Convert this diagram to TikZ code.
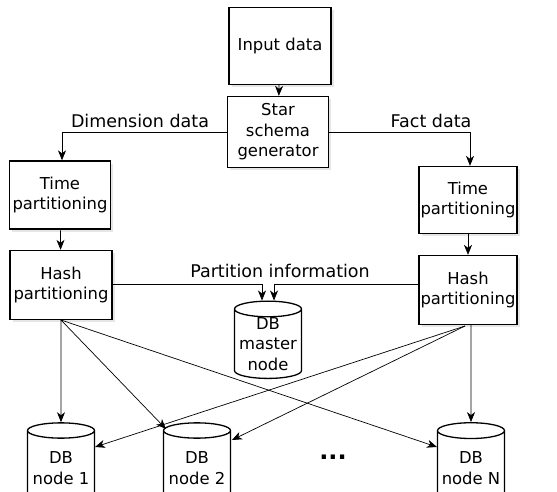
\documentclass[tikz,border=0pt]{standalone}
\usepackage{fontspec}
\setmainfont{DejaVu Sans}
\usetikzlibrary{shapes.geometric,arrows.meta,shadows}
\begin{document}
\begin{tikzpicture}[x=1pt,y=-1pt,
  box/.style={draw,line width=1.3pt,fill=white,align=center,inner sep=0pt,
    drop shadow={shadow xshift=2.5pt,shadow yshift=-2.5pt,opacity=0.2}},
  db/.style={draw,line width=1.3pt,fill=white,cylinder,shape border rotate=90,
    aspect=0.27,minimum width=67pt,minimum height=64pt,align=center,inner sep=0pt},
  conn/.style={line width=0.7pt,-{Stealth[length=10pt,width=8pt,inset=3pt]}},
  lbl/.style={font=\fontsize{17.5}{20}\selectfont},
  every node/.append style={font=\fontsize{16.4}{20.5}\selectfont}]
\useasboundingbox (0,0) rectangle (557,491);
\node[box,minimum width=102pt,minimum height=77pt] (input) at (280,46) {Input data};
\node[box,minimum width=101pt,minimum height=71pt] (star) at (278,132) {Star\\schema\\generator};
\node[box,minimum width=101pt,minimum height=68pt] (tl) at (60,195) {Time\\partitioning};
\node[box,minimum width=102pt,minimum height=69pt] (hl) at (61,285) {Hash\\partitioning};
\node[box,minimum width=98pt,minimum height=67pt] (tr) at (468,200) {Time\\partitioning};
\node[box,minimum width=98pt,minimum height=69pt] (hr) at (468,290) {Hash\\partitioning};
\node[db] (master) at (268,344) {DB\\master\\node};
\node[db,minimum height=82pt] (n1) at (61,468) {DB\\node 1};
\node[db,minimum height=82pt] (n2) at (197,468) {DB\\node 2};
\node[db,minimum height=82pt] (nN) at (471,468) {DB\\node N};
\node[font=\fontsize{24}{24}\selectfont\bfseries] (dots) at (333,457) {...};
\node[lbl] (ldim) at (140,121) {Dimension data};
\node[lbl] (lfact) at (431,121) {Fact data};
\node[lbl] (lpart) at (280,271) {Partition information};
\coordinate (dl) at (62,132);
\coordinate (fr) at (470,132);
\coordinate (pl) at (262,284);
\coordinate (pr) at (274,284);
\draw[conn] (input) -- (star);
\draw[conn] (star.west) -- (dl) -- (tl.north -| dl);
\draw[conn] (star.east) -- (fr) -- (tr.north -| fr);
\draw[conn] (tl) -- (hl);
\draw[conn] (tr) -- (hr);
\draw[conn] (hl.east |- pl) -- (pl) -- (master.north -| pl);
\draw[conn] (hr.west |- pr) -- (pr) -- (master.north -| pr);
\coordinate (hlb) at (61,320);
\coordinate (hrb) at (465,326);
\draw[conn] (hl.south) -- (n1.north);
\draw[conn] (hlb) -- (166,429);
\draw[conn] (hlb) -- (437,447);
\draw[conn] (hr.south -| nN) -- (nN.north);
\draw[conn] (hrb) -- (95,447);
\draw[conn] (hrb) -- (232,440);
\end{tikzpicture}
\end{document}
